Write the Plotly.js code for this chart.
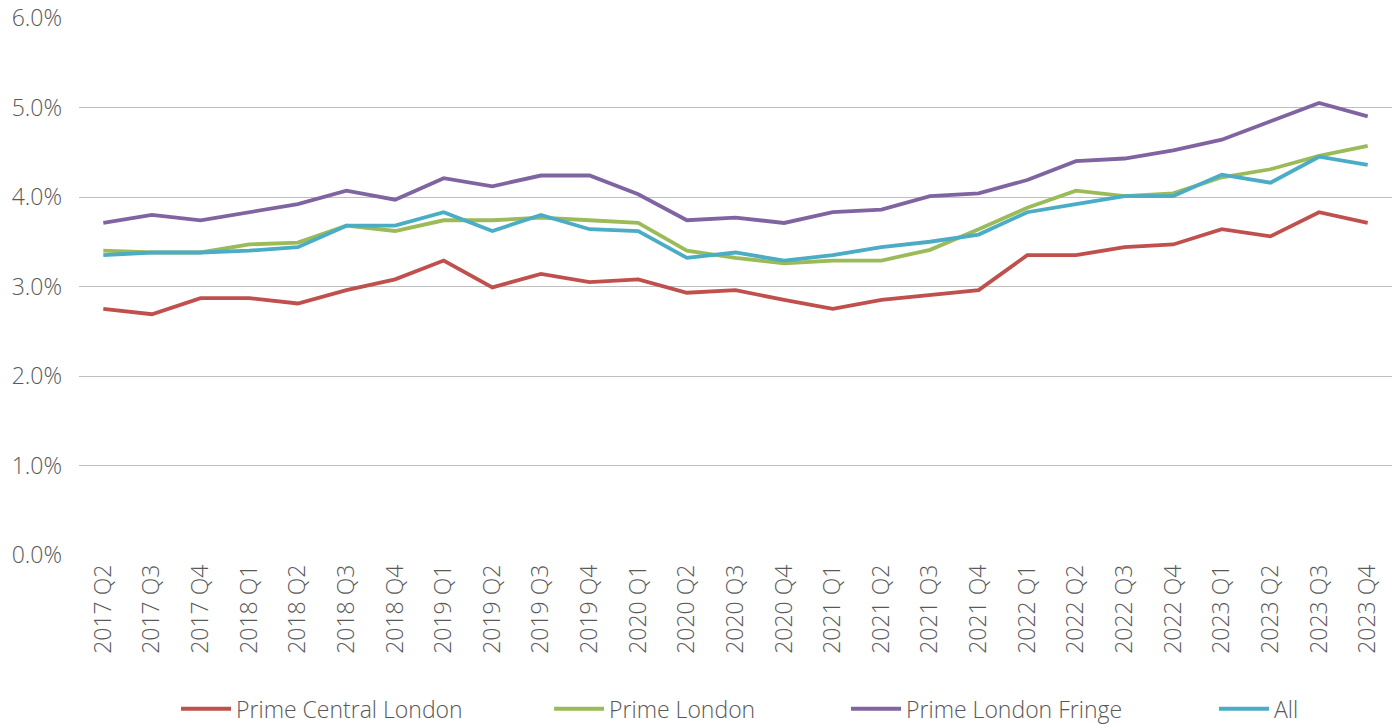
<!DOCTYPE html>
<html>
<head>
<meta charset="utf-8">
<script src="https://cdn.plot.ly/plotly-3.0.1.min.js"></script>
<style>html,body{margin:0;padding:0;background:#fff;}#chart{width:1397px;height:724px;}</style>
</head>
<body>
<div id="chart"></div>
<script>
const quarters = ["2017 Q2","2017 Q3","2017 Q4","2018 Q1","2018 Q2","2018 Q3","2018 Q4","2019 Q1","2019 Q2","2019 Q3","2019 Q4","2020 Q1","2020 Q2","2020 Q3","2020 Q4","2021 Q1","2021 Q2","2021 Q3","2021 Q4","2022 Q1","2022 Q2","2022 Q3","2022 Q4","2023 Q1","2023 Q2","2023 Q3","2023 Q4"];
const primeCentralLondon = [2.75,2.69,2.87,2.87,2.81,2.96,3.08,3.29,2.99,3.14,3.05,3.08,2.93,2.96,2.85,2.75,2.85,2.91,2.96,3.35,3.35,3.44,3.47,3.64,3.56,3.83,3.71];
const primeLondon = [3.40,3.38,3.38,3.47,3.49,3.68,3.62,3.74,3.74,3.77,3.74,3.71,3.40,3.32,3.26,3.29,3.29,3.41,3.64,3.88,4.07,4.01,4.04,4.22,4.31,4.46,4.57];
const primeLondonFringe = [3.71,3.80,3.74,3.83,3.92,4.07,3.97,4.21,4.12,4.24,4.24,4.03,3.74,3.77,3.71,3.83,3.86,4.01,4.04,4.19,4.40,4.43,4.52,4.64,4.85,5.05,4.90];
const allPrime = [3.35,3.38,3.38,3.40,3.44,3.68,3.68,3.83,3.62,3.80,3.64,3.62,3.32,3.38,3.29,3.35,3.44,3.50,3.58,3.83,3.92,4.01,4.01,4.25,4.16,4.45,4.36];
const seriesNames = ["Prime Central London","Prime London","Prime London Fringe","All"];
const yTickVals = [0,1,2,3,4,5,6];
const yTickText = ["0.0%","1.0%","2.0%","3.0%","4.0%","5.0%","6.0%"];

const colors = ["#C0504D","#9BBB59","#8064A2","#4BACC6"];
const seriesData = [primeCentralLondon, primeLondon, primeLondonFringe, allPrime];
const legendIds = ["legend","legend2","legend3","legend4"];
const FONT = "Open Sans, Lato, sans-serif";
const tf = {family: FONT, size: 23, color: "#595959", weight: 300};

const traces = seriesData.map((ys, i) => ({
  type: "scatter", mode: "lines", x: quarters, y: ys, name: seriesNames[i],
  line: {color: colors[i], width: 3.8}, legend: legendIds[i],
  hoverinfo: "x+y+name"
}));

const legendX = [0.0739, 0.3580, 0.5842, 0.8644];
const layout = {
  width: 1397, height: 724,
  margin: {l: 79, r: 5, t: 18, b: 169},
  paper_bgcolor: "#ffffff", plot_bgcolor: "#ffffff",
  font: tf,
  showlegend: true,
  xaxis: {
    type: "category", tickangle: -90, showgrid: false, zeroline: false,
    showline: false, ticks: "", tickfont: tf, automargin: false,
    ticklabelstandoff: 4,
    range: [-0.5, 26.5], fixedrange: true
  },
  yaxis: {
    range: [0, 6], tickvals: yTickVals, ticktext: yTickText, showgrid: true,
    gridcolor: "#bfbfbf", gridwidth: 1, zeroline: false, showline: false, ticks: "",
    automargin: false,
    ticklabelstandoff: 16, tickfont: tf, fixedrange: true
  }
};
legendIds.forEach((id, i) => {
  layout[id] = {orientation: "h", x: legendX[i], xanchor: "left", yref: "container", y: 0.021, yanchor: "middle",
    bgcolor: "rgba(0,0,0,0)", borderwidth: 0, itemwidth: 50, font: tf};
});
Plotly.newPlot("chart", traces, layout, {displayModeBar: false});
</script>
</body>
</html>
